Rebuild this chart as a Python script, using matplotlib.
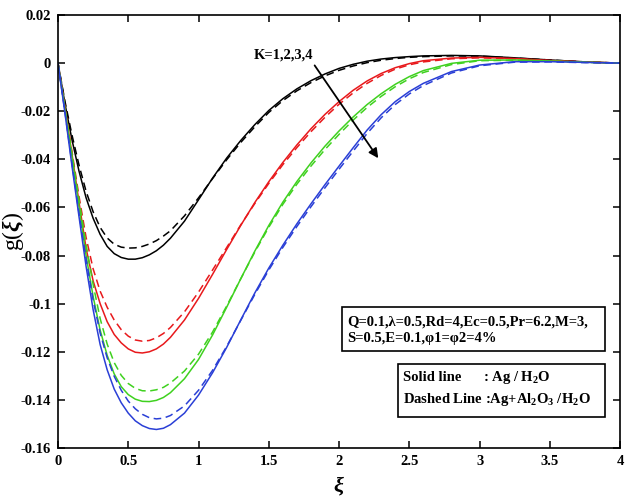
import numpy as np
import matplotlib
matplotlib.use('Agg')
import matplotlib.pyplot as plt
from matplotlib.patches import Rectangle
from matplotlib.ticker import FixedLocator, FuncFormatter

plt.rcParams['font.family'] = ['Liberation Serif', 'DejaVu Serif']
plt.rcParams['font.weight'] = 'bold'
plt.rcParams['mathtext.fontset'] = 'custom'
plt.rcParams['mathtext.rm'] = 'Liberation Serif:bold'
plt.rcParams['mathtext.it'] = 'Liberation Serif:italic:bold'
plt.rcParams['mathtext.bf'] = 'Liberation Serif:bold'

# values
xi = [0, 0.05, 0.1, 0.15, 0.2, 0.25, 0.3, 0.35, 0.4, 0.45, 0.5, 0.55, 0.6, 0.65,
      0.7, 0.75, 0.8, 0.9, 1.0, 1.1, 1.2, 1.3, 1.4, 1.5, 1.6, 1.7, 1.8, 1.9, 2.0,
      2.1, 2.2, 2.3, 2.4, 2.5, 2.6, 2.8, 3.0, 3.25, 3.5, 3.75, 4.0]

# solid: Ag / H2O, K = 1..4
g_ag_k1 = [0, -0.017, -0.032, -0.045, -0.056, -0.0645, -0.0712, -0.0762, -0.0792,
           -0.0808, -0.0815, -0.0815, -0.0809, -0.0797, -0.078, -0.0757, -0.0728,
           -0.0657, -0.0568, -0.0478, -0.0395, -0.0322, -0.0256, -0.0197, -0.0148,
           -0.0107, -0.0073, -0.0045, -0.0022, -0.0005, 0.0008, 0.0017, 0.0023,
           0.0027, 0.003, 0.0032, 0.003, 0.0022, 0.0013, 0.0005, 0]
g_ag_k2 = [0, -0.019, -0.038, -0.058, -0.077, -0.0905, -0.1, -0.1075, -0.1128,
           -0.1163, -0.1188, -0.1202, -0.1205, -0.12, -0.1188, -0.1168, -0.114,
           -0.1068, -0.0978, -0.0878, -0.0775, -0.0675, -0.058, -0.0493, -0.0413,
           -0.034, -0.0273, -0.0213, -0.016, -0.0113, -0.0074, -0.0043, -0.0019,
           -0.0002, 0.001, 0.0021, 0.0024, 0.0019, 0.0011, 0.0005, 0]
g_ag_k3 = [0, -0.0195, -0.039, -0.06, -0.08, -0.097, -0.111, -0.1215, -0.1292,
           -0.1345, -0.1378, -0.1397, -0.1406, -0.1407, -0.1402, -0.139, -0.137,
           -0.1312, -0.1232, -0.113, -0.1015, -0.0897, -0.0782, -0.0675, -0.0578,
           -0.0492, -0.0415, -0.0345, -0.0282, -0.0224, -0.0172, -0.0127, -0.0088,
           -0.0056, -0.0031, -0.0001, 0.0012, 0.0013, 0.0009, 0.0004, 0]
g_ag_k4 = [0, -0.021, -0.043, -0.064, -0.0845, -0.1025, -0.117, -0.1275, -0.1355,
           -0.1412, -0.1455, -0.1487, -0.1507, -0.1519, -0.1523, -0.1518, -0.1503,
           -0.1455, -0.138, -0.1287, -0.1182, -0.1068, -0.0956, -0.0852, -0.0757,
           -0.0668, -0.0585, -0.0505, -0.0428, -0.0352, -0.0278, -0.0214, -0.016,
           -0.0118, -0.0084, -0.0035, -0.0008, 0.0006, 0.0006, 0.0003, 0]

# dashed: Ag+Al2O3 / H2O, K = 1..4
g_hy_k1 = [0, -0.016, -0.03, -0.0425, -0.0533, -0.0618, -0.0683, -0.0727, -0.0753,
           -0.0765, -0.0769, -0.0768, -0.0762, -0.0752, -0.0738, -0.0719, -0.0697,
           -0.0635, -0.056, -0.048, -0.0402, -0.033, -0.0265, -0.0205, -0.0156,
           -0.0115, -0.0081, -0.0053, -0.003, -0.0012, 0.0002, 0.0012, 0.0019,
           0.0024, 0.0027, 0.003, 0.0029, 0.0021, 0.0013, 0.0005, 0]
g_hy_k2 = [0, -0.0185, -0.037, -0.0555, -0.0725, -0.0855, -0.0948, -0.1015, -0.1068,
           -0.1108, -0.1135, -0.1151, -0.1156, -0.1153, -0.1142, -0.1124, -0.1099,
           -0.1034, -0.0952, -0.086, -0.0767, -0.0673, -0.0584, -0.05, -0.0422,
           -0.0351, -0.0285, -0.0225, -0.0171, -0.0124, -0.0084, -0.0051, -0.0025,
           -0.0007, 0.0005, 0.0018, 0.0022, 0.0018, 0.001, 0.0004, 0]
g_hy_k3 = [0, -0.019, -0.038, -0.057, -0.0755, -0.092, -0.1062, -0.1168, -0.1245,
           -0.1298, -0.1332, -0.1352, -0.1362, -0.1363, -0.1358, -0.1348, -0.133,
           -0.128, -0.121, -0.1118, -0.101, -0.0897, -0.0786, -0.0682, -0.0587,
           -0.0503, -0.0428, -0.0359, -0.0296, -0.0237, -0.0184, -0.0138, -0.0098,
           -0.0065, -0.0039, -0.0006, 0.001, 0.0012, 0.0008, 0.0003, 0]
g_hy_k4 = [0, -0.0205, -0.042, -0.0625, -0.0815, -0.0985, -0.1122, -0.1225, -0.1302,
           -0.136, -0.1405, -0.1437, -0.146, -0.1474, -0.1479, -0.1476, -0.1465,
           -0.1425, -0.136, -0.1277, -0.1178, -0.107, -0.0962, -0.086, -0.0766,
           -0.0679, -0.0597, -0.0518, -0.0441, -0.0366, -0.0292, -0.0227, -0.0172,
           -0.0128, -0.0093, -0.0041, -0.0011, 0.0004, 0.0005, 0.0002, 0]

curve_colors = ['black', '#e8191c', '#3fd11f', '#2a3fd6']
x_ticks = [0, 0.5, 1, 1.5, 2, 2.5, 3, 3.5, 4]
y_ticks = [0.02, 0, -0.02, -0.04, -0.06, -0.08, -0.1, -0.12, -0.14, -0.16]

fig = plt.figure(figsize=(6.4, 5.0), dpi=100)
ax = fig.add_axes([0.0906, 0.104, 0.8784, 0.866])

solid = [g_ag_k1, g_ag_k2, g_ag_k3, g_ag_k4]
dashed = [g_hy_k1, g_hy_k2, g_hy_k3, g_hy_k4]
for ys, yd, c in zip(solid, dashed, curve_colors):
    ax.plot(xi, ys, color=c, lw=1.1, solid_joinstyle='round')
    ax.plot(xi, yd, color=c, lw=1.1, dashes=(5, 3))

ax.set_xlim(0, 4)
ax.set_ylim(-0.16, 0.02)
ax.xaxis.set_major_locator(FixedLocator(x_ticks))
ax.yaxis.set_major_locator(FixedLocator(y_ticks))
fmt = FuncFormatter(lambda v, p: '%g' % round(v, 3) if abs(v) > 1e-9 else '0')
ax.xaxis.set_major_formatter(fmt)
ax.yaxis.set_major_formatter(fmt)
ax.tick_params(direction='in', length=5, width=1.1, top=True, right=True,
               labelsize=10.5, pad=5)
for lab in ax.get_xticklabels() + ax.get_yticklabels():
    lab.set_fontweight('bold')
for sp in ax.spines.values():
    sp.set_linewidth(1.2)

ax.set_xlabel(r'$\xi$', fontsize=16)
ax.xaxis.set_label_coords(0.5, -0.087)
ax.xaxis.label.set_va('center')
ax.set_ylabel(r'g($\xi$)', fontsize=17)
ax.yaxis.set_label_coords(-0.08, 0.5)
ax.yaxis.label.set_va('center')

# K arrow
ax.text(1.39, 0.0032, 'K=1,2,3,4', fontsize=10.5, fontweight='bold',
        ha='left', va='center')
ax.annotate('', xy=(2.29, -0.0405), xytext=(1.815, 0.0),
            arrowprops=dict(arrowstyle='-|>', color='black', lw=1.3,
                            mutation_scale=14))

# parameter box
ax.add_patch(Rectangle((0.505, 0.2247), 0.468, 0.1003, transform=ax.transAxes,
                       fc='white', ec='black', lw=1.2, zorder=5))
ax.text(0.5137, 0.291, u'Q=0.1,\u03bb=0.5,Rd=4,Ec=0.5,Pr=6.2,M=3,',
        transform=ax.transAxes, fontsize=10.5, fontweight='bold',
        va='center', ha='left', zorder=6)
ax.text(0.5137, 0.254, u'S=0.5,E=0.1,\u03c61=\u03c62=4%',
        transform=ax.transAxes, fontsize=10.5, fontweight='bold',
        va='center', ha='left', zorder=6)

# line style box
ax.add_patch(Rectangle((0.604, 0.0709), 0.369, 0.1231, transform=ax.transAxes,
                       fc='white', ec='black', lw=1.2, zorder=5))
ax.text(0.6133, 0.1617, 'Solid line', transform=ax.transAxes, fontsize=10.5,
        fontweight='bold', va='center', ha='left', zorder=6)
ax.text(0.756, 0.1617, ': Ag / H$_2$O', transform=ax.transAxes, fontsize=10.5,
        fontweight='bold', va='center', ha='left', zorder=6)
ax.text(0.6133, 0.1109, 'Dashed Line :Ag+Al$_2$O$_3$ /H$_2$O',
        transform=ax.transAxes, fontsize=10.5, fontweight='bold',
        va='center', ha='left', zorder=6)

fig.savefig('out.png', dpi=100)
